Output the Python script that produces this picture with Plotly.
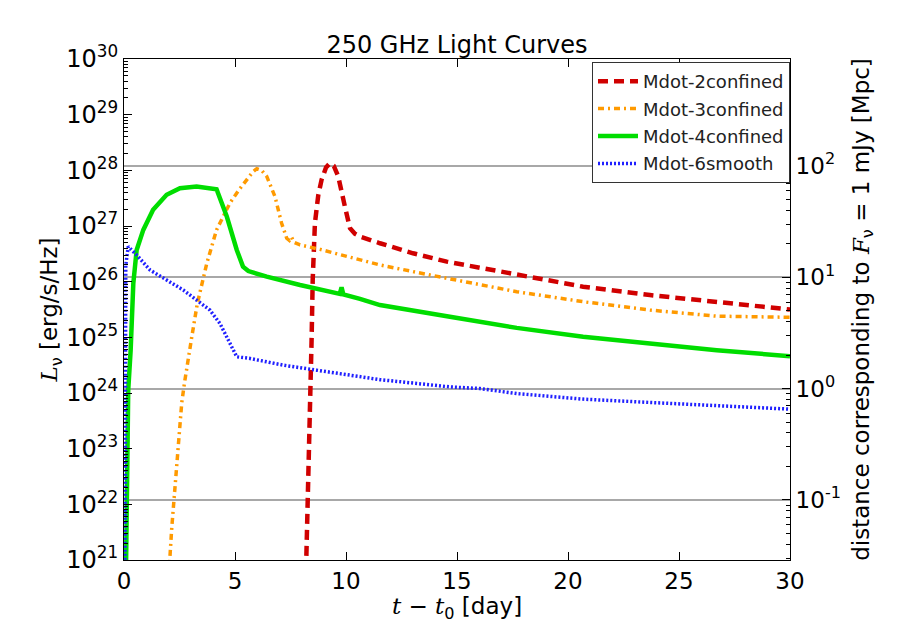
import math
import plotly.graph_objects as go

# ---------------- data ----------------
red_t = [8.18, 8.25, 8.38, 8.45, 8.50, 8.60, 8.75, 8.90, 9.10, 9.28, 9.45, 9.65, 9.95, 10.18, 10.40,
         10.63, 11.53, 13.02, 14.54, 15.73, 17.69, 20.68, 23.69, 26.7, 30.0]
red_logL = [20.5, 21.5, 24.08, 24.95, 26.03, 27.05, 27.55, 27.83, 28.05, 28.13, 28.08, 27.89, 27.35,
            26.96, 26.86, 26.81, 26.69, 26.51, 26.36, 26.27, 26.12, 25.91, 25.76, 25.64, 25.50]

orange_t = [2.03, 2.07, 2.15, 2.25, 2.37, 2.49, 2.60, 2.72, 2.85, 3.05, 3.30, 3.73, 4.17, 4.77, 5.20,
            5.53, 5.80, 5.98, 6.20, 6.43, 6.80, 7.10, 7.33, 7.45, 7.55, 7.65, 7.93, 8.83, 10.63, 11.53,
            13.78, 16.04, 17.69, 20.68, 23.69, 26.7, 30.0]
orange_logL = [20.5, 21.06, 21.57, 22.08, 22.83, 23.34, 23.82, 24.17, 24.53, 25.00, 25.60, 26.33,
               26.93, 27.41, 27.66, 27.83, 27.97, 28.03, 28.00, 27.89, 27.53, 27.05, 26.78, 26.74,
               26.80, 26.71, 26.66, 26.58, 26.39, 26.30, 26.12, 25.94, 25.82, 25.64, 25.49, 25.38, 25.36]

green_t = [0.08, 0.12, 0.19, 0.30, 0.42, 0.57, 0.87, 1.31, 1.92, 2.52, 3.27, 4.17, 4.63, 5.08, 5.36,
           5.60, 5.98, 6.43, 7.93, 8.51, 9.41, 9.72, 9.80, 9.88, 10.63, 11.53, 14.68, 16.04, 17.69,
           20.68, 23.69, 26.7, 30.0]
green_logL = [20.5, 22.5, 24.05, 24.77, 25.97, 26.57, 26.93, 27.29, 27.56, 27.68, 27.71, 27.66, 27.17,
              26.57, 26.27, 26.19, 26.14, 26.09, 25.94, 25.89, 25.82, 25.78, 25.90, 25.77, 25.69, 25.58,
              25.37, 25.28, 25.17, 25.01, 24.88, 24.77, 24.66]

blue_t = [0.04, 0.05, 0.08, 0.19, 0.57, 1.17, 1.92, 2.67, 3.27, 3.87, 4.32, 4.77, 5.08, 5.68, 7.18,
          8.68, 10.63, 11.53, 14.68, 16.04, 17.69, 20.68, 23.69, 26.7, 30.0]
blue_logL = [20.5, 24.0, 26.3, 26.63, 26.48, 26.21, 26.03, 25.85, 25.67, 25.49, 25.25, 24.89, 24.65,
             24.62, 24.50, 24.41, 24.29, 24.24, 24.11, 24.08, 23.99, 23.89, 23.83, 23.77, 23.71]

series_names = ["Mdot-2confined", "Mdot-3confined", "Mdot-4confined", "Mdot-6smooth"]

x_ticks = [0, 5, 10, 15, 20, 25, 30]
left_exponents = list(range(21, 31))
right_exponents = [-1, 0, 1, 2]

L_min_exp, L_max_exp = 21, 30
F_nu = 1e-26        # 1 mJy in erg/s/cm^2/Hz
Mpc = 3.086e24      # cm


def dist_mpc(L):
    return math.sqrt(L / (4 * math.pi * F_nu)) / Mpc


# ---------------- figure ----------------
FONT = "DejaVu Sans"
MATH = "<span style=\"font-family:DejaVu Serif\"><i>%s</i></span>"
styles = [
    dict(color="#d00000", width=4.5, dash="10px,6px"),
    dict(color="#ff9a00", width=3.5, dash="6px,4px,2px,4px"),
    dict(color="#00dd00", width=4.5, dash="solid"),
    dict(color="#2020ff", width=3.5, dash="2px,2px"),
]
all_t = [red_t, orange_t, green_t, blue_t]
all_L = [red_logL, orange_logL, green_logL, blue_logL]

fig = go.Figure()
for name, ts, ls, st in zip(series_names, all_t, all_L, styles):
    fig.add_trace(go.Scatter(
        x=ts, y=[10 ** v for v in ls], mode="lines", name=name,
        line=st, legendgroup=name, hoverinfo="skip",
    ))

# invisible trace to activate the right axis
fig.add_trace(go.Scatter(x=[15], y=[1], yaxis="y2", mode="markers",
                         marker=dict(opacity=0), showlegend=False, hoverinfo="skip"))

left_vals = [10.0 ** e for e in left_exponents]
left_text = ["10<sup>%d</sup>" % e for e in left_exponents]
left_minor = [m * 10.0 ** e for e in range(L_min_exp, L_max_exp) for m in range(2, 10)]

right_vals = [10.0 ** e for e in right_exponents]
right_text = ["10<sup>%d</sup>" % e for e in right_exponents]
right_minor = [m * 10.0 ** e for e in range(-2, 3) for m in range(2, 10)]

r_lo = math.log10(dist_mpc(10.0 ** L_min_exp))
r_hi = math.log10(dist_mpc(10.0 ** L_max_exp))

# the page places the figure 8 px from the top-left corner of the window
W, H = 894, 615
L_M, R_M, T_M, B_M = 116, 112, 51, 63

fig.update_layout(
    width=W, height=H,
    margin=dict(l=L_M, r=R_M, t=T_M, b=B_M, autoexpand=False),
    paper_bgcolor="white",
    plot_bgcolor="white",
    font=dict(family=FONT, size=22, color="black"),
    title=dict(text="250 GHz Light Curves", x=0.5, xref="paper", xanchor="center",
               y=1 - 37 / H, yref="container", yanchor="middle",
               font=dict(family=FONT, size=24, color="black")),
    showlegend=True,
    legend=dict(x=1.0, y=0.994, xanchor="right", yanchor="top",
                bgcolor="white", bordercolor="#333333", borderwidth=1,
                font=dict(family=FONT, size=18, color="#222222"),
                tracegroupgap=1, itemwidth=40),
    xaxis=dict(range=[0, 30], tickvals=x_ticks, ticks="inside", ticklen=8, tickwidth=1,
               tickcolor="black", showline=True, linecolor="black", linewidth=1,
               mirror="ticks", showgrid=False, zeroline=False, layer="above traces",
               automargin=False,
               tickfont=dict(family=FONT, size=23),
               title=dict(text=(MATH % "t") + " − " + (MATH % "t") + "<sub>0</sub> [day]",
                          font=dict(family=FONT, size=23), standoff=2)),
    yaxis=dict(type="log", range=[L_min_exp, L_max_exp], tickmode="array",
               tickvals=left_vals, ticktext=left_text, ticks="inside", ticklen=8,
               tickcolor="black", showline=True, linecolor="black", linewidth=1,
               showgrid=False, zeroline=False, layer="above traces", automargin=False,
               minor=dict(tickmode="array", tickvals=left_minor, ticks="inside",
                          ticklen=4, tickcolor="black", showgrid=False),
               tickfont=dict(family=FONT, size=24),
               title=dict(text=(MATH % "L") + "<sub>ν</sub> [erg/s/Hz]",
                          font=dict(family=FONT, size=23), standoff=0)),
    yaxis2=dict(type="log", range=[r_lo, r_hi], overlaying="y", side="right",
                tickmode="array", tickvals=right_vals, ticktext=right_text,
                ticks="inside", ticklen=8, tickcolor="black", showline=True,
                linecolor="black", linewidth=1, showgrid=True, gridcolor="#a8a8a8",
                gridwidth=1.5, zeroline=False, automargin=False,
                minor=dict(tickmode="array", tickvals=right_minor, ticks="inside",
                           ticklen=4, tickcolor="black", showgrid=False),
                tickfont=dict(family=FONT, size=23),
                title=dict(text="distance corresponding to " + (MATH % "F")
                           + "<sub>ν</sub> = 1 mJy [Mpc]",
                           font=dict(family=FONT, size=23), standoff=12)),
)

fig.write_html("out.html")
